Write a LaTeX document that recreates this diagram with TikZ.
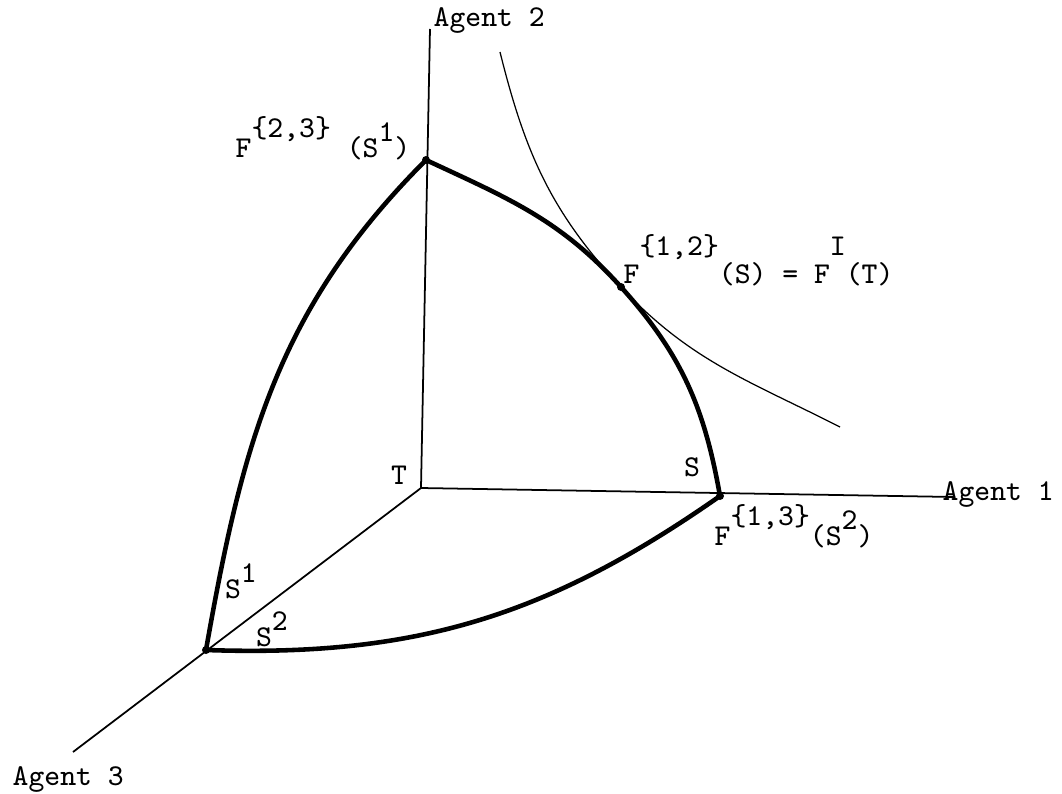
\documentclass[tikz,border=0pt]{standalone}
\usepackage{tikz}
\usetikzlibrary{positioning}
\newcommand{\hi}[2][2.8mm]{\raisebox{#1}{#2}}

\begin{document}
\begin{tikzpicture}[
  lbl/.style={font=\fontsize{8.6}{10}\selectfont\ttfamily,inner sep=0pt},
  dot/.style={circle,fill,inner sep=0pt,minimum size=.8mm},
  axis/.style={line width=.5pt},
  front/.style={line width=1.3pt,line cap=round},
  level/.style={line width=.35pt}]
  \useasboundingbox (-4.21,-3.05) rectangle (6.41,4.88);
  % axes
  \coordinate (T) at (0,0);
  \coordinate (a1) at (5.34,-0.09);
  \coordinate (a2) at (0.09,4.59);
  \coordinate (a3) at (-3.48,-2.64);
  \draw[axis] (T)--(a1);
  \draw[axis] (T)--(a2);
  \draw[axis] (T)--(a3);
  \node[lbl,anchor=base west] (ag1) at (5.21,-0.12) {Agent 1};
  \node[lbl,anchor=base west] (ag2) at (0.12,4.62) {Agent 2};
  \node[lbl,anchor=base west] (ag3) at (-4.09,-2.97) {Agent 3};
  \node[lbl] (t) at (-0.22,0.13) {T};

  % the set S
  \coordinate (p23) at (0.05,3.28);
  \coordinate (p12) at (2.00,2.01);
  \coordinate (p13) at (2.99,-0.08);
  \coordinate (p3) at (-2.15,-1.62);
  \draw[front] (p23) to[out=-25,in=132] (p12) to[out=-48,in=100] (p13);
  \draw[front] (p23) to[out=-135,in=80] (p3);
  \draw[front] (p3) to[out=-2,in=-145] (p13);
  \foreach \p in {p23,p12,p13,p3}
    \node[dot] at (\p) {};

  % level curve through F^I(T)
  \coordinate (h1) at (0.79,4.36);
  \coordinate (h2) at (4.19,0.61);
  \draw[level] (h1) to[out=-76,in=133] (p12) to[out=-47,in=153] (h2);

  % labels
  \node[lbl,anchor=base east] (l23) at (-0.10,3.31)
    {F\hi[2mm]{\{2,3\}} (S\hi[1.6mm]{1})};
  \node[lbl,anchor=base west] (l12) at (2.02,2.05)
    {F\hi{\{1,2\}}(S) = F\hi{I}(T)};
  \node[lbl,anchor=base west] (l13) at (2.93,-0.57)
    {F\hi[2mm]{\{1,3\}}(S\hi[1.6mm]{2})};
  \node[lbl] (s) at (2.71,0.21) {S};
  \node[lbl] (s1) at (-1.80,-0.93) {S\hi[1.6mm]{1}};
  \node[lbl] (s2) at (-1.49,-1.41) {S\hi[1.6mm]{2}};
\end{tikzpicture}
\end{document}
